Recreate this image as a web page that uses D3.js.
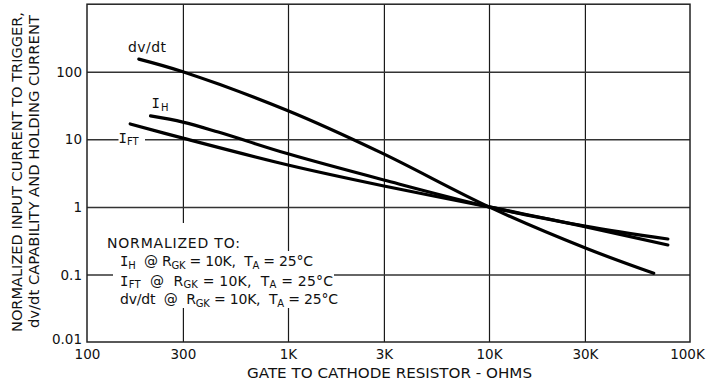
<!DOCTYPE html>
<html><head><meta charset="utf-8">
<script src="https://cdn.jsdelivr.net/npm/d3@7/dist/d3.min.js"></script>
<style>
html,body{margin:0;padding:0;background:#fff;}
svg{display:block;}
text{font-family:"DejaVu Sans",sans-serif;fill:#111;white-space:pre;}
</style></head>
<body>
<svg id="chart" width="708" height="385"></svg>
<script>
// ---- data ----
const xTicks = [100, 300, 1000, 3000, 10000, 30000, 100000];
const xTickLabels = ["100", "300", "1K", "3K", "10K", "30K", "100K"];
const xGrid = [300, 1000, 3000, 10000, 30000];
const yTicks = [0.01, 0.1, 1, 10, 100];
const yTickLabels = ["0.01", "0.1", "1", "10", "100"];
const yGrid = [0.1, 1, 10, 100];

const dvdtR = [181, 300, 1000, 2920, 10000, 30400, 66000];
const dvdtV = [154, 100, 26.5, 6.3, 1, 0.244, 0.104];
const ihR = [207, 300, 450, 1000, 3000, 10000, 30000, 77600];
const ihV = [22.2, 18.0, 12.8, 6.1, 2.5, 1, 0.51, 0.273];
const iftR = [164, 300, 1000, 3000, 10000, 30000, 77600];
const iftV = [16.9, 10.4, 4.17, 2.04, 1, 0.52, 0.335];

const svg = d3.select("#chart");
const L = 87, R = 690, T = 4.2, B = 342;
const x = d3.scaleLog().domain([100, 100000]).range([L, R]);
const y = d3.scaleLog().domain([0.01, 1000]).range([B, T]);

// gridlines
const gx = svg.append("g").attr("transform", `translate(0,${B})`)
  .call(d3.axisBottom(x).tickValues(xGrid).tickSize(-(B - T)).tickFormat(""));
gx.select(".domain").remove();
gx.selectAll("line").attr("stroke", "#1a1a1a").attr("stroke-width", 1.2);
const gy = svg.append("g").attr("transform", `translate(${L},0)`)
  .call(d3.axisLeft(y).tickValues(yGrid).tickSize(-(R - L)).tickFormat(""));
gy.select(".domain").remove();
gy.selectAll("line").attr("stroke", "#333").attr("stroke-width", 1.5);

// frame
svg.append("rect").attr("x", L).attr("y", T).attr("width", R - L).attr("height", B - T)
  .attr("fill", "none").attr("stroke", "#222").attr("stroke-width", 1.5);

// tick labels
const ax = svg.append("g").attr("transform", `translate(0,${B})`)
  .call(d3.axisBottom(x).tickValues(xTicks).tickSize(0).tickFormat((d, i) => xTickLabels[i]));
ax.select(".domain").remove();
ax.selectAll("text").attr("y", 17).attr("dy", null)
  .attr("font-size", 13.5).attr("font-family", "DejaVu Sans").attr("fill", "#111")
  .attr("dx", (d) => d === 100000 ? -3 : 0);
const ay = svg.append("g").attr("transform", `translate(${L},0)`)
  .call(d3.axisLeft(y).tickValues(yTicks).tickSize(0).tickPadding(5).tickFormat((d, i) => yTickLabels[i]));
ay.select(".domain").remove();
ay.selectAll("text").attr("font-size", 13.5).attr("font-family", "DejaVu Sans").attr("fill", "#111")
  .attr("dy", (d) => d === 0.01 ? "0.1em" : "0.34em");

// axis titles
svg.append("text").attr("transform", "translate(21.7,172) rotate(-90)")
  .attr("text-anchor", "middle").attr("font-size", 13.8)
  .attr("textLength", 320).attr("lengthAdjust", "spacingAndGlyphs")
  .text("NORMALIZED INPUT CURRENT TO TRIGGER,");
svg.append("text").attr("transform", "translate(39.3,171.5) rotate(-90)")
  .attr("text-anchor", "middle").attr("font-size", 13.8)
  .attr("textLength", 313).attr("lengthAdjust", "spacingAndGlyphs")
  .text("dv/dt CAPABILITY AND HOLDING CURRENT");
svg.append("text").attr("x", 389.5).attr("y", 378)
  .attr("text-anchor", "middle").attr("font-size", 13.5)
  .attr("textLength", 285).attr("lengthAdjust", "spacingAndGlyphs")
  .text("GATE TO CATHODE RESISTOR - OHMS");

// legend block (white background over gridlines)
const leg = svg.append("g");
const bg = leg.append("g");
function richLine(g, xx, yy, parts, len) {
  const t = g.append("text").attr("x", xx).attr("y", yy).attr("font-size", 14);
  let pending = 0;
  parts.forEach(p => {
    let ts;
    if (p.sub) {
      ts = t.append("tspan").attr("font-size", 10).attr("dy", 2.5 + pending).text(p.sub);
      pending = -2.5;
      return;
    } else if (p.I) {
      ts = t.append("tspan").attr("font-family", "DejaVu Sans Mono").text("I");
    } else {
      ts = t.append("tspan").text(p.t);
    }
    if (pending) ts.attr("dy", pending);
    pending = 0;
  });
  if (len) t.attr("textLength", len).attr("lengthAdjust", "spacing");
  return t;
}
richLine(leg, 107, 248.3, [{t: "NORMALIZED TO:"}], 133);
richLine(leg, 120, 266, [{I: 1}, {sub: "H"}, {t: "  @ R"}, {sub: "GK"}, {t: " = 10K,  T"}, {sub: "A"}, {t: " = 25°C"}], 193);
richLine(leg, 120, 285.5, [{I: 1}, {sub: "FT"}, {t: "  @  R"}, {sub: "GK"}, {t: " = 10K,  T"}, {sub: "A"}, {t: " = 25°C"}], 213);
richLine(leg, 120, 304.3, [{t: "dv/dt  @  R"}, {sub: "GK"}, {t: " = 10K,  T"}, {sub: "A"}, {t: " = 25°C"}], 218);
bg.append("rect").attr("x", 100).attr("y", 223).attr("width", 148).attr("height", 28).attr("fill", "#fff");
bg.append("rect").attr("x", 113).attr("y", 251).attr("width", 221).attr("height", 57).attr("fill", "#fff");

// curves
const line = d3.line().x(d => x(d[0])).y(d => y(d[1])).curve(d3.curveCatmullRom.alpha(0.5));
const curves = [
  {name: "dv/dt", r: dvdtR, v: dvdtV},
  {name: "IH", r: ihR, v: ihV},
  {name: "IFT", r: iftR, v: iftV}
];
svg.append("g").selectAll("path").data(curves).join("path")
  .attr("d", c => line(c.r.map((r, i) => [r, c.v[i]])))
  .attr("fill", "none").attr("stroke", "#000").attr("stroke-width", 3.2)
  .attr("stroke-linecap", "round").attr("stroke-linejoin", "round");

// curve labels
svg.append("text").attr("x", 128).attr("y", 52).attr("font-size", 14)
  .attr("textLength", 38).attr("lengthAdjust", "spacing").text("dv/dt");
svg.append("rect").attr("x", 118.5).attr("y", 131).attr("width", 26.5).attr("height", 17).attr("fill", "#fff");
const lh = svg.append("text").attr("x", 151.5).attr("y", 108.3).attr("font-size", 14);
lh.append("tspan").attr("font-family", "DejaVu Sans Mono").text("I");
lh.append("tspan").attr("font-size", 10).attr("dy", 2.4).attr("dx", 1).text("H");
const lf = svg.append("text").attr("x", 118.5).attr("y", 143.3).attr("font-size", 14);
lf.append("tspan").attr("font-family", "DejaVu Sans Mono").text("I");
lf.append("tspan").attr("font-size", 10).attr("dy", 2).attr("dx", 0).text("FT");
</script>
</body></html>
